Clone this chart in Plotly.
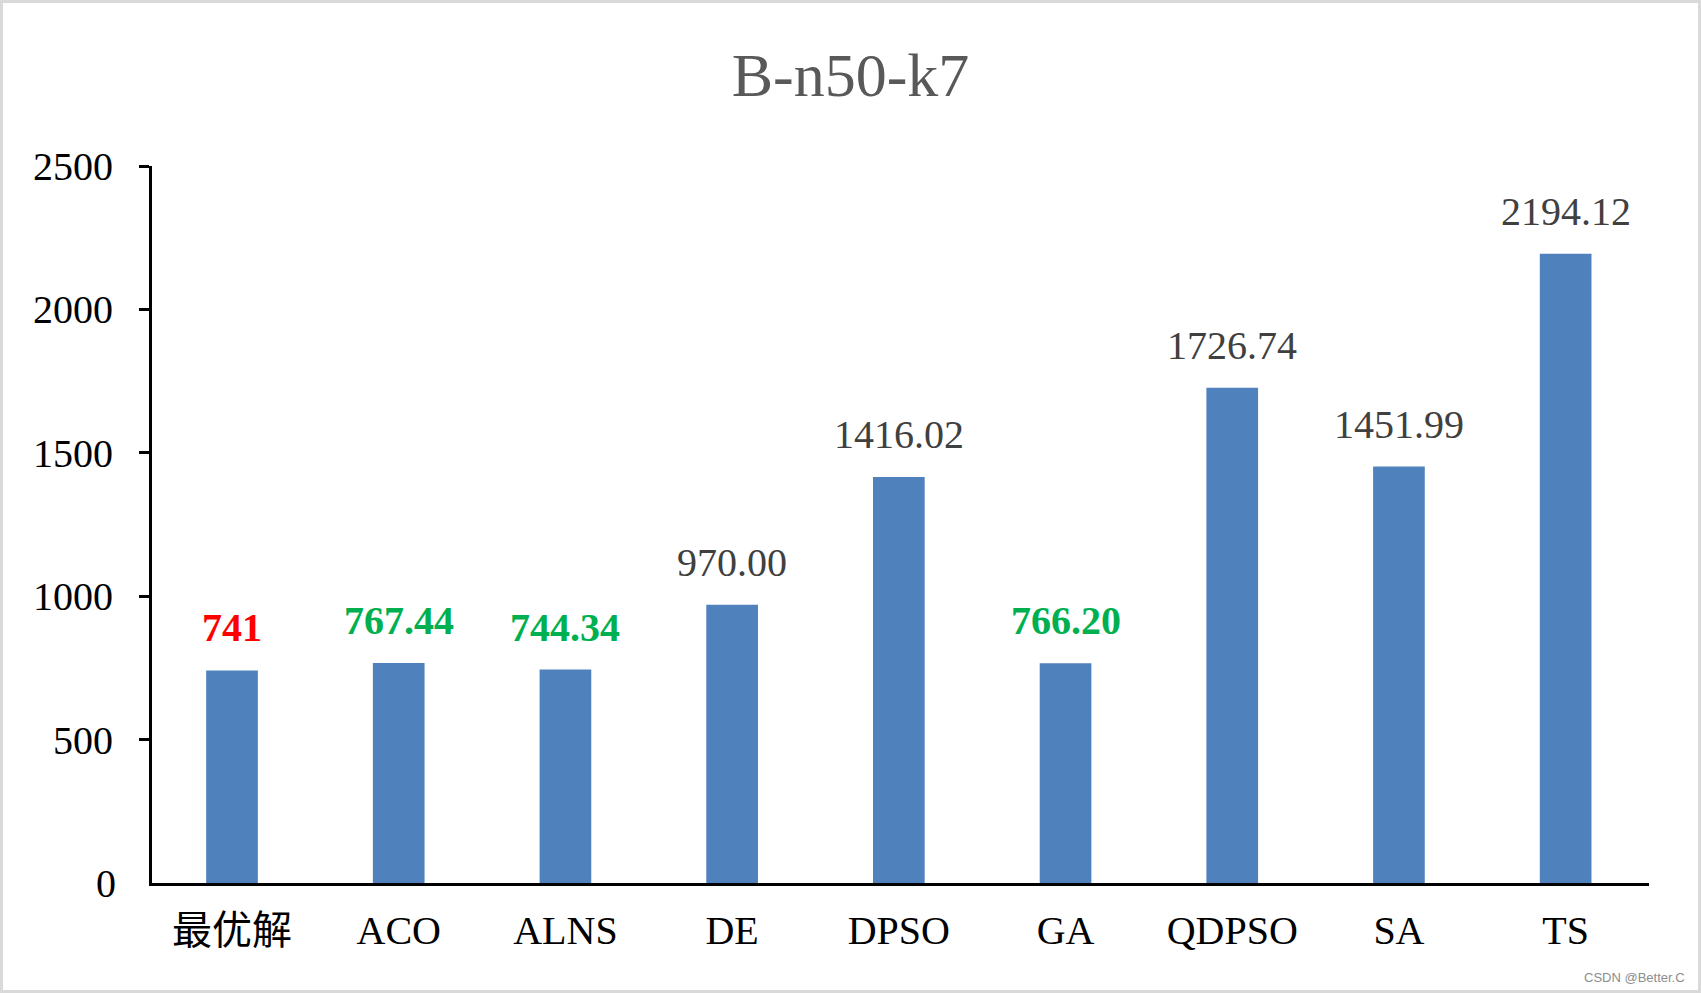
import plotly.graph_objects as go

categories = ["最优解", "ACO", "ALNS", "DE", "DPSO", "GA", "QDPSO", "SA", "TS"]
values = [741, 767.44, 744.34, 970.00, 1416.02, 766.20, 1726.74, 1451.99, 2194.12]
labels = ["741", "767.44", "744.34", "970.00", "1416.02", "766.20", "1726.74", "1451.99", "2194.12"]
label_colors = ["#ff0000", "#00b050", "#00b050", "#404040", "#404040", "#00b050", "#404040", "#404040", "#404040"]
label_bold = [True, True, True, False, False, True, False, False, False]
y_ticks = [500, 1000, 1500, 2000, 2500]
y_zero = 0
title = "B-n50-k7"

W, H = 1701, 993
ML, MR, MT, MB = 152, 52, 166, 110
PW, PH = W - ML - MR, H - MT - MB

SERIF = "Liberation Serif, Times New Roman, Noto Sans CJK SC, serif"

fig = go.Figure()
fig.add_trace(go.Bar(
    x=categories, y=values,
    marker=dict(color="#4f81bd", line=dict(width=0)),
    hoverinfo="x+y",
))

for c, v, t, col, b in zip(categories, values, labels, label_colors, label_bold):
    fig.add_annotation(
        x=c, y=v, xref="x", yref="y",
        text=f"<b>{t}</b>" if b else t,
        showarrow=False, yanchor="bottom", yshift=18,
        font=dict(family=SERIF, size=40, color=col),
    )

# zero label (reference has no tick mark at 0)
fig.add_annotation(
    xref="paper", yref="y", x=0, y=y_zero,
    text=str(y_zero), showarrow=False,
    xanchor="right", yanchor="middle", xshift=-35, borderpad=0,
    font=dict(family=SERIF, size=40, color="black"),
)

# watermark
fig.add_annotation(
    xref="paper", yref="paper",
    x=(1687 - ML) / PW, y=(MT + PH - 977) / PH,
    xanchor="right", yanchor="middle",
    text="CSDN @Better.C", showarrow=False,
    font=dict(family="Liberation Sans, Arial, sans-serif", size=13, color="#8c8c8c"),
)

# outer border
fig.add_shape(
    type="rect", xref="paper", yref="paper",
    x0=(1.5 - ML) / PW, x1=(W - 1.5 - ML) / PW,
    y0=(MT + PH - (H - 1.5)) / PH, y1=(MT + PH - 1.5) / PH,
    line=dict(color="#d9d9d9", width=3), fillcolor="rgba(0,0,0,0)", layer="below",
)

fig.update_layout(
    width=W, height=H,
    margin=dict(l=ML, r=MR, t=MT, b=MB, pad=0),
    paper_bgcolor="white", plot_bgcolor="white",
    bargap=0.69,
    showlegend=False,
    title=dict(
        text=title, x=0.5, xanchor="center", xref="container",
        y=1 - 74 / H, yanchor="middle", yref="container",
        font=dict(family=SERIF, size=62, color="#595959"),
    ),
    xaxis=dict(
        range=[-0.48, 8.5],
        showline=True, linecolor="black", linewidth=3,
        ticks="", showgrid=False, zeroline=False,
        tickfont=dict(family=SERIF, size=40, color="black"),
        ticklabelstandoff=10,
    ),
    yaxis=dict(
        range=[0, 2500], tickvals=y_ticks, ticktext=[str(t) for t in y_ticks],
        showline=True, linecolor="black", linewidth=3,
        ticks="outside", ticklen=10, tickwidth=3, tickcolor="black",
        showgrid=False, zeroline=False,
        tickfont=dict(family=SERIF, size=40, color="black"),
        ticklabelstandoff=18,
    ),
)

fig.write_html(
    "out.html",
    config={"displayModeBar": False},
    post_script="document.body.style.margin='0';document.body.style.overflow='hidden';",
)
